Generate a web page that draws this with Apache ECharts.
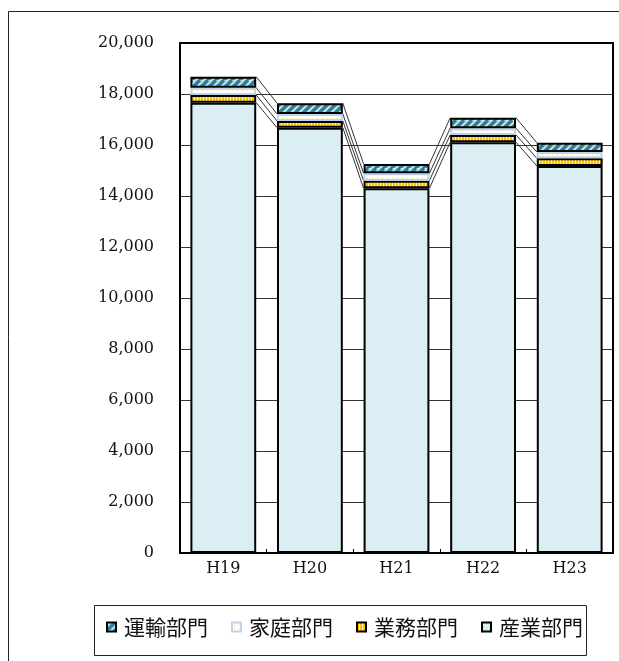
<!DOCTYPE html>
<html>
<head>
<meta charset="utf-8">
<script src="https://cdn.jsdelivr.net/npm/echarts@6/dist/echarts.min.js"></script>
<style>
html,body{margin:0;padding:0;background:#fff;}
#chart{width:619px;height:661px;}
</style>
</head>
<body>
<div id="chart"></div>
<script>
const categories = ['H19', 'H20', 'H21', 'H22', 'H23'];
const industry = [17660, 16680, 14300, 16110, 15180];   // 産業部門
const business = [300, 265, 300, 287, 300];             // 業務部門
const household = [286, 275, 290, 262, 247];            // 家庭部門
const transport = [431, 420, 366, 405, 366];            // 運輸部門
const seriesNames = ['産業部門', '業務部門', '家庭部門', '運輸部門'];
const legendOrder = ['運輸部門', '家庭部門', '業務部門', '産業部門'];
const yTicks = { min: 0, max: 20000, interval: 2000 };

const GAP = 0.24;

function makeCanvas(w, h) {
  const c = document.createElement('canvas');
  c.width = w; c.height = h;
  return c;
}
function hatchPattern() {
  const c = makeCanvas(8, 8), ctx = c.getContext('2d');
  ctx.fillStyle = '#C4E6EF'; ctx.fillRect(0, 0, 8, 8);
  ctx.strokeStyle = '#2C7F95'; ctx.lineWidth = 3.5;
  [[-8, 8, 0, 0], [0, 8, 8, 0], [0, 16, 16, 0], [8, 16, 16, 8]].forEach(l => {
    ctx.beginPath(); ctx.moveTo(l[0], l[1]); ctx.lineTo(l[2], l[3]); ctx.stroke();
  });
  return c;
}
function vStripePattern() {
  const c = makeCanvas(3, 4), ctx = c.getContext('2d');
  ctx.fillStyle = '#FFC000'; ctx.fillRect(0, 0, 3, 4);
  ctx.fillStyle = '#FFF3B0'; ctx.fillRect(2, 0, 1, 4);
  return c;
}
function dotPattern() {
  const c = makeCanvas(5, 4), ctx = c.getContext('2d');
  ctx.fillStyle = '#FFFFFF'; ctx.fillRect(0, 0, 5, 4);
  ctx.fillStyle = '#FFE040'; ctx.fillRect(2, 2, 1, 1);
  return c;
}

const segs = [industry, business, household, transport];
function cumAt(i, k) {
  let s = 0;
  for (let j = 0; j <= k; j++) s += segs[j][i];
  return s;
}
const lineData = [];
for (let i = 0; i < categories.length - 1; i++) {
  const row = [i];
  for (let k = 0; k < 4; k++) row.push(cumAt(i, k));
  for (let k = 0; k < 4; k++) row.push(cumAt(i + 1, k));
  lineData.push(row);
}

const chart = echarts.init(document.getElementById('chart'), null, { renderer: 'canvas' });
const serifFont = 'DejaVu Serif';
const cjkFont = '"Noto Sans CJK JP"';

const styles = [
  { color: '#DAEEF3', borderColor: '#000', borderWidth: 2 },
  { color: { image: vStripePattern(), repeat: 'repeat' }, borderColor: '#000', borderWidth: 2 },
  { color: { image: dotPattern(), repeat: 'repeat' }, borderColor: '#BDD3EE', borderWidth: 2 },
  { color: { image: hatchPattern(), repeat: 'repeat' }, borderColor: '#000', borderWidth: 2 }
];

const barSeries = segs.map((arr, k) => ({
  name: seriesNames[k],
  type: 'bar',
  stack: 'total',
  barCategoryGap: (GAP * 100) + '%',
  data: arr,
  itemStyle: styles[k],
  emphasis: { disabled: true },
  z: 3
}));

const option = {
  animation: false,
  backgroundColor: '#fff',
  grid: { left: 180, top: 43, right: 6, bottom: 108, show: true, borderColor: '#000', borderWidth: 2, backgroundColor: 'transparent', z: 5 },
  xAxis: {
    type: 'category',
    data: categories,
    axisLine: { lineStyle: { color: '#000', width: 2 } },
    axisTick: { show: true, inside: true, length: 4, lineStyle: { color: '#000', width: 1 } },
    axisLabel: { fontFamily: serifFont, fontSize: 16, color: '#111', margin: 8 },
    splitLine: { show: false }
  },
  yAxis: {
    type: 'value',
    min: yTicks.min, max: yTicks.max, interval: yTicks.interval,
    axisLine: { show: true, lineStyle: { color: '#000', width: 2 } },
    axisTick: { show: false },
    axisLabel: {
      fontFamily: serifFont, fontSize: 16, color: '#111', margin: 26,
      formatter: v => String(v).replace(/\B(?=(\d{3})+(?!\d))/g, ',')
    },
    splitLine: { show: true, lineStyle: { color: '#333', width: 1 } }
  },
  legend: {
    data: legendOrder,
    left: 106, top: 614,
    padding: 0,
    itemWidth: 9, itemHeight: 9, itemGap: 23,
    icon: 'rect',
    textStyle: { fontFamily: cjkFont, fontSize: 21, color: '#111', lineHeight: 26, padding: [0, 0, 0, 3] },
    selectedMode: false
  },
  graphic: [
    { type: 'rect', shape: { x: 8.5, y: 11.5, width: 700, height: 700 }, style: { fill: 'none', stroke: '#222', lineWidth: 1 }, silent: true, z: 0 },
    { type: 'rect', shape: { x: 94.5, y: 605.5, width: 492, height: 50 }, style: { fill: 'none', stroke: '#222', lineWidth: 1 }, silent: true, z: 0 }
  ],
  series: barSeries.concat([{
    type: 'custom',
    name: 'serieslines',
    silent: true,
    z: 2,
    data: lineData,
    encode: { x: 0, y: [1, 2, 3, 4, 5, 6, 7, 8] },
    renderItem: function (params, api) {
      const i = api.value(0);
      const band = api.size([1, 0])[0];
      const half = band * (1 - GAP) / 2;
      const children = [];
      for (let k = 0; k < 4; k++) {
        const p1 = api.coord([i, api.value(1 + k)]);
        const p2 = api.coord([i + 1, api.value(5 + k)]);
        children.push({
          type: 'line',
          shape: { x1: p1[0] + half, y1: p1[1], x2: p2[0] - half, y2: p2[1] },
          style: { stroke: '#333', lineWidth: 1 }
        });
      }
      return { type: 'group', children: children };
    }
  }])
};
chart.setOption(option);
</script>
</body>
</html>
